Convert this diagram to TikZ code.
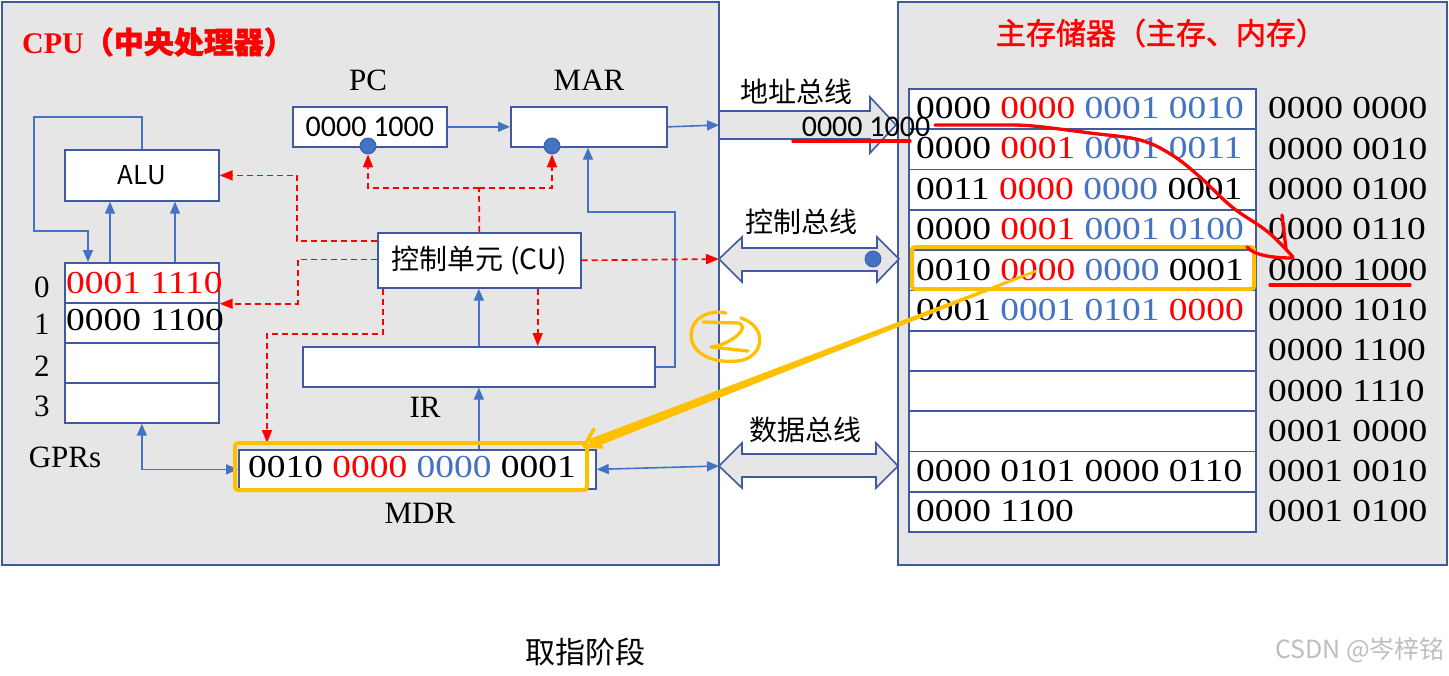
\documentclass[tikz,border=0pt]{standalone}
\usepackage{fontspec}
\setmainfont{Liberation Serif}
\newfontfamily\numf[FakeStretch=1.17]{Liberation Serif}
\newfontfamily\sansf{Carlito}
\newfontfamily\cjk{Noto Sans CJK SC}
\newfontfamily\cjkb[FakeBold=1.6]{Noto Sans CJK SC}
\usetikzlibrary{arrows.meta,calc}
\definecolor{bord}{RGB}{63,90,160}
\definecolor{cblue}{RGB}{68,114,196}
\definecolor{bggray}{RGB}{230,230,230}
\definecolor{busgray}{RGB}{231,230,230}
\definecolor{ored}{RGB}{255,0,0}
\definecolor{orng}{RGB}{255,192,0}
\definecolor{wmgray}{RGB}{190,190,190}
\begin{document}
\begin{tikzpicture}[x=1pt,y=-1pt,
  box/.style={draw=bord,fill=white,line width=1.7pt,inner sep=0pt,anchor=north west},
  conn/.style={draw=cblue,line width=1.6pt},
  tipb/.style={-{Triangle[length=12pt,width=10pt]}},
  tipbb/.style={{Triangle[length=12pt,width=10pt]}-{Triangle[length=12pt,width=10pt]}},
  ctl/.style={draw=ored,line width=1.7pt,dash pattern=on 6pt off 4pt,-{Triangle[length=13pt,width=10pt]}},
  ctlline/.style={draw=ored,line width=1.7pt,dash pattern=on 6pt off 4pt},
  bus/.style={draw=bord,fill=busgray,line width=1.6pt,line join=miter},
  numtxt/.style={inner sep=0pt,anchor=west,font=\numf\fontsize{32}{36}\selectfont},
  lbl/.style={inner sep=0pt,font=\fontsize{31}{34}\selectfont},
  dot/.style={circle,fill=cblue,draw=bord,line width=0.8pt,minimum size=16pt,inner sep=0pt},
  hl/.style={draw=orng,line width=4pt,rounded corners=3pt},
  pen/.style={line width=3.3pt,line cap=round,line join=round}
]
\useasboundingbox (0,0) rectangle (1449,675);
\fill[white] (0,0) rectangle (1449,675);

% frames
\draw[draw=bord,fill=bggray,line width=1.8pt] (2,2) rectangle (719,565);
\draw[draw=bord,fill=bggray,line width=1.8pt] (898,2) rectangle (1447,565);

% titles
\node[anchor=west,inner sep=0pt,text=ored] (cputitle) at (22,42)
  {\fontsize{30}{34}\selectfont\bfseries CPU\cjkb （中央处理器）};
\node[inner sep=0pt,text=ored] (memtitle) at (1161,33)
  {\cjkb\fontsize{30}{34}\selectfont 主存储器（主存、内存）};

% CPU boxes
\node[box,minimum width=154pt,minimum height=40pt] (pc) at (292,106) {\sansf\fontsize{30}{34}\selectfont 0000 1000};
\node[box,minimum width=156pt,minimum height=40pt] (mar) at (510,106) {};
\node[lbl] (pclbl) at (368,80) {PC};
\node[lbl] (marlbl) at (589,80) {MAR};
\node[box,minimum width=154pt,minimum height=51pt] (alu) at (64,149) {\cjk\fontsize{26}{30}\selectfont ALU};
\node[box,minimum width=203pt,minimum height=55pt] (cu) at (377,232) {\cjk\fontsize{28}{32}\selectfont 控制单元 (CU)};
\node[box,minimum width=352pt,minimum height=40pt] (ir) at (302,346) {};
\node[lbl] (irlbl) at (425,407) {IR};
\node[box,minimum width=357pt,minimum height=39pt] (mdr) at (238,449) {};
\node[numtxt] (mdrtxt) at (248,467) {0010 {\color{ored}0000} {\color{cblue}0000} 0001};
\node[lbl] (mdrlbl) at (420,513) {MDR};

% GPRs
\foreach \i in {0,...,3}
  \node[box,minimum width=154pt,minimum height=40pt] (g\i) at (64,{262+40*\i}) {};
\node[numtxt,text=ored] (g0t) at (66,283) {0001 1110};
\node[numtxt] (g1t) at (66,320) {0000 1100};
\foreach \i/\y in {0/287,1/324,2/366,3/406}
  \node[lbl] (gl\i) at (42,\y) {\i};
\node[lbl] (gprlbl) at (65,457) {GPRs};

% dots
\node[dot] (pcdot) at (368,146) {};
\node[dot] (mardot) at (552,146) {};

% blue connectors
\draw[conn,tipb] (pc.east) -- (mar.west);
\coordinate (abusL) at (719,125);
\draw[conn,tipb] (mar.east) -- (abusL);
\draw[conn,tipb] (alu.north) -- ++(0,-32) -- ++(-108,0) -- ++(0,114) -| ([xshift=24pt]g0.north west);
\draw[conn,tipb] ([xshift=46pt]g0.north west) -- ([xshift=46pt]g0.north west |- alu.south);
\draw[conn,tipb] ([xshift=111pt]g0.north west) -- ([xshift=111pt]g0.north west |- alu.south);
\draw[conn,tipbb] (g3.south) |- (mdr.west);
\draw[conn,tipb] (ir.south |- mdr.north) -- (ir.south);
\draw[conn,tipb] (ir.north) -- (ir.north |- cu.south);
\draw[conn,tipb] (ir.east) -- ++(19,0) -- ++(0,-155) -| ([xshift=78pt]mar.south west);
\coordinate (dbusL) at (719,466);
\draw[conn,tipbb] (mdr.east) -- (dbusL);

% red control lines
\coordinate (j1) at (479,188);
\draw[ctlline] (cu.north) -- (j1);
\draw[ctl] (j1) -| (pcdot.south);
\draw[ctl] (j1) -| (mardot.south);
\draw[ctl] ([yshift=19.5pt]cu.west) -- ++(-80,0) |- (alu.east);
\draw[ctl] ([yshift=1pt]cu.west) -- ++(-79,0) |- (g0.south east);
\draw[ctl] ([xshift=6pt]cu.south west) -- ++(0,45) -| ([xshift=29pt,yshift=6pt]mdr.north west);
\draw[ctl] ([xshift=-44pt]cu.south east) -- ([xshift=-44pt]cu.south east |- ir.north);
\coordinate (cbusL) at (719,259);
\draw[ctl] (cu.east) -- (cbusL);

% bus region
\fill[white] (719,2) rectangle (898,565);
\draw[bord,line width=1.8pt] (719,2) -- (719,565);
\draw[bord,line width=1.8pt] (898,2) -- (898,565);
\draw[bus] (abusL |- 0,111) -- (870,111) -- (870,97) -- (896,125) -- (870,153) -- (870,139) -- (abusL |- 0,139) -- cycle;
\draw[bus] (cbusL) -- (742,237) -- (742,248) -- (877,248) -- (877,237) -- (899,259) -- (877,282) -- (877,271) -- (742,271) -- (742,282) -- cycle;
\draw[bus] (dbusL) -- (742,443) -- (742,454) -- (876,454) -- (876,443) -- (898,466) -- (876,488) -- (876,477) -- (742,477) -- (742,488) -- cycle;
\node[dot] (cbusdot) at (873,259) {};
\node[inner sep=0pt] (ablbl) at (796,92) {\cjk\fontsize{28}{32}\selectfont 地址总线};
\node[inner sep=0pt] (cblbl) at (801,222) {\cjk\fontsize{28}{32}\selectfont 控制总线};
\node[inner sep=0pt] (dblbl) at (805,430) {\cjk\fontsize{28}{32}\selectfont 数据总线};

% memory table
\foreach \i in {0,...,10}
  \node[box,minimum width=347pt,minimum height=40.3pt] (m\i) at (908,{88+40.3*\i}) {};
\node[numtxt] (mt0) at (916,108) {0000 {\color{ored}0000} {\color{cblue}0001 0010}};
\node[numtxt] (mt1) at (916,148.5) {0000 {\color{ored}0001} {\color{cblue}0001 0011}};
\node[numtxt] (mt2) at (916,189) {0011 {\color{ored}0000} {\color{cblue}0000} 0001};
\node[numtxt] (mt3) at (916,229) {0000 {\color{ored}0001} {\color{cblue}0001 0100}};
\node[numtxt] (mt4) at (916,270) {0010 {\color{ored}0000} {\color{cblue}0000} 0001};
\node[numtxt] (mt5) at (916,310) {0001 {\color{cblue}0001 0101} {\color{ored}0000}};
\node[numtxt] (mt9) at (916,471) {0000 0101 0000 0110};
\node[numtxt] (mt10) at (916,511) {0000 1100};
\foreach \i/\a in {0/0000 0000,1/0000 0010,2/0000 0100,3/0000 0110,4/0000 1000,5/0000 1010,6/0000 1100,7/0000 1110,8/0001 0000,9/0001 0010,10/0001 0100}
  \node[numtxt] (ad\i) at (1268,{108.5+40.3*\i}) {\a};

% address on bus
\node[inner sep=0pt] (abtext) at (866,127) {\sansf\fontsize{30}{34}\selectfont 0000 1000};

% highlights
\draw[hl] (912,247) rectangle (1254,289);
\draw[hl] (235,443) rectangle (587,490);

% red pen strokes
\draw[ored,pen] (793,141) -- (910,141);
\draw[ored,pen] (1270,285) -- (1410,285);
\draw[ored,pen] plot[smooth,tension=0.6] coordinates {(935,125) (1000,125) (1033,126) (1090,133) (1140,140) (1172,155) (1200,177) (1232,207) (1268,232) (1293,257)};
\draw[ored,pen] (1282,215) -- (1286,249);
\draw[ored,pen] (1247,247) .. controls (1255,256) and (1275,258) .. (1293,258);

% orange pen: arrow to MDR
\fill[orng] (1036.4,272.2) -- (1035.6,269.8) -- (588.2,439.5) -- (591.8,448.5) -- cycle;
\draw[orng,pen,line width=3.5pt] (594,429) -- (584,446) -- (602,447);
% orange circled 2
\draw[orng,pen,line width=3.3pt] (703,322) -- (738,323) .. controls (752,327) and (730,345) .. (711,347) -- (748,351);
\draw[orng,pen,line width=3.3pt] (741,318) .. controls (769,327) and (764,359) .. (737,361) .. controls (705,364) and (687,348) .. (692,329) .. controls (696,315) and (712,310) .. (726,313);

% bottom texts
\node[inner sep=0pt] (stage) at (585,652) {\cjk\fontsize{30}{34}\selectfont 取指阶段};
\node[inner sep=0pt,anchor=east,text=wmgray] (wm) at (1445,650) {\cjk\fontsize{25}{28}\selectfont CSDN @岑梓铭};
\end{tikzpicture}
\end{document}
